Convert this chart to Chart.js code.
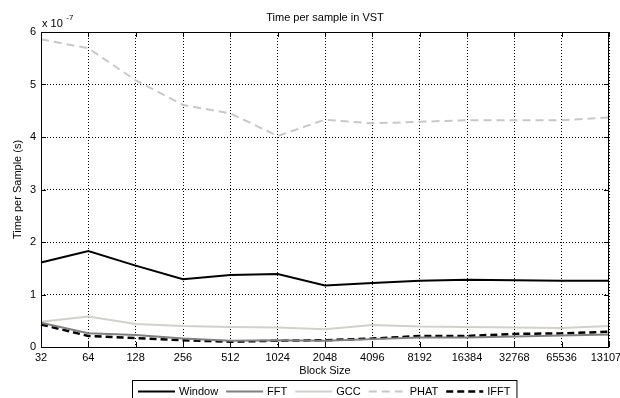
<!DOCTYPE html>
<html>
<head>
<meta charset="utf-8">
<script src="https://cdn.jsdelivr.net/npm/chart.js@4"></script>
<style>
  html, body { margin: 0; padding: 0; background: #fff; }
  #wrap { width: 620px; height: 398px; }
</style>
</head>
<body>
<div id="wrap"><canvas id="myChart" width="620" height="398"></canvas></div>
<script>
// block sizes (x axis)
const blockSizes = ['32', '64', '128', '256', '512', '1024', '2048', '4096', '8192', '16384', '32768', '65536', '131072']
// time per sample, in units of 1e-7 s
const windowT = [1.61, 1.83, 1.55, 1.29, 1.37, 1.39, 1.17, 1.22, 1.26, 1.28, 1.27, 1.26, 1.26]
const fftT    = [0.46, 0.26, 0.23, 0.16, 0.12, 0.13, 0.12, 0.15, 0.18, 0.18, 0.20, 0.22, 0.24]
const gccT    = [0.48, 0.58, 0.44, 0.40, 0.38, 0.37, 0.34, 0.42, 0.39, 0.38, 0.37, 0.36, 0.40]
const phatT   = [5.86, 5.69, 5.08, 4.61, 4.45, 4.02, 4.33, 4.26, 4.29, 4.32, 4.32, 4.32, 4.37]
const ifftT   = [0.43, 0.21, 0.17, 0.13, 0.10, 0.12, 0.13, 0.16, 0.21, 0.21, 0.25, 0.26, 0.29]
const yTicks = [0, 1, 2, 3, 4, 5, 6]
const seriesNames = ['Window', 'FFT', 'GCC', 'PHAT', 'IFFT']

const FONT = '"Liberation Sans", Arial, sans-serif'

const ctx = document.getElementById('myChart')

const makeSet = (label, data, color, width, dash) => ({
    label: label,
    data: data,
    borderColor: color,
    backgroundColor: color,
    borderWidth: width,
    borderDash: dash,
    pointRadius: 0,
    tension: 0,
    fill: false
})

// title, exponent, box, inward ticks, legend
const matlabDecor = {
    id: 'matlabDecor',
    afterDatasetsDraw(chart) {
        const c = chart.ctx
        const a = chart.chartArea
        const xs = chart.scales.x
        const ys = chart.scales.y
        c.save()
        // axes box
        c.strokeStyle = '#000'
        c.lineWidth = 1
        c.setLineDash([])
        c.strokeRect(a.left + 0.5, a.top + 0.5, a.right - a.left - 1, a.bottom - a.top)
        // inward tick marks
        c.beginPath()
        xs.ticks.forEach((t, i) => {
            const px = Math.round(xs.getPixelForTick(i)) + 0.5
            c.moveTo(px, a.bottom); c.lineTo(px, a.bottom - 5)
            c.moveTo(px, a.top); c.lineTo(px, a.top + 5)
        })
        ys.ticks.forEach((t, i) => {
            const py = Math.round(ys.getPixelForTick(i)) + 0.5
            c.moveTo(a.left, py); c.lineTo(a.left + 5, py)
            c.moveTo(a.right, py); c.lineTo(a.right - 5, py)
        })
        c.stroke()

        // title
        c.fillStyle = '#000'
        c.font = '11px ' + FONT
        c.textAlign = 'center'
        c.textBaseline = 'middle'
        c.fillText('Time per sample in VST', (a.left + a.right) / 2, 18)

        // exponent
        c.textAlign = 'left'
        c.fillText('x 10', a.left + 1, 24)
        c.font = '8px ' + FONT
        c.fillText('-7', a.left + 1 + c.measureText('x 10 ').width + 7, 18)

        // legend
        c.font = '11px ' + FONT
        const sets = chart.data.datasets
        const lineLen = 37
        let x = 138
        const ly = 391.5
        const boxLeft = 132
        sets.forEach((ds, i) => {
            c.strokeStyle = ds.borderColor
            c.lineWidth = ds.borderWidth
            c.setLineDash(ds.borderDash || [])
            c.beginPath()
            c.moveTo(x, ly); c.lineTo(x + lineLen, ly)
            c.stroke()
            x += lineLen + 4
            c.fillStyle = '#000'
            c.fillText(ds.label, x, ly + 0.5)
            x += c.measureText(ds.label).width + 8
        })
        c.setLineDash([])
        c.strokeStyle = '#000'
        c.lineWidth = 1
        c.strokeRect(boxLeft + 0.5, 380.5, x - boxLeft - 2, 30)
        c.restore()
    }
}

let grafico = new Chart(ctx, {
    type: 'line',
    data: {
        labels: blockSizes,
        datasets: [
            makeSet(seriesNames[0], windowT, '#000000', 2, []),
            makeSet(seriesNames[1], fftT, '#808080', 2, []),
            makeSet(seriesNames[2], gccT, '#d4d0c8', 2, []),
            makeSet(seriesNames[3], phatT, '#c8c8c8', 2, [8, 5]),
            makeSet(seriesNames[4], ifftT, '#000000', 2.5, [7, 4])
        ]
    },
    options: {
        responsive: false,
        animation: false,
        devicePixelRatio: 1,
        layout: {
            padding: { left: 0, right: 11, top: 32, bottom: 20 }
        },
        plugins: {
            legend: { display: false },
            title: { display: false },
            tooltip: { enabled: false }
        },
        scales: {
            x: {
                type: 'category',
                offset: false,
                grid: {
                    color: '#000',
                    lineWidth: 1,
                    drawTicks: false
                },
                // dotted grid lines
                border: { display: false, dash: [1, 2] },
                ticks: {
                    color: '#000',
                    font: { family: FONT, size: 11 },
                    padding: 4,
                    maxRotation: 0,
                    autoSkip: false
                },
                title: {
                    display: true,
                    text: 'Block Size',
                    color: '#000',
                    font: { family: FONT, size: 11 },
                    padding: { top: 0, bottom: 0 }
                },
                afterFit: (scale) => {
                    scale.height = 31
                    scale.paddingLeft = 0
                    scale.paddingRight = 0
                }
            },
            y: {
                min: 0,
                max: 6,
                afterBuildTicks: (scale) => {
                    scale.ticks = yTicks.map(v => ({ value: v }))
                },
                grid: {
                    color: '#000',
                    lineWidth: 1,
                    drawTicks: false
                },
                border: { display: false, dash: [1, 2] },
                ticks: {
                    color: '#000',
                    font: { family: FONT, size: 11 },
                    padding: 5
                },
                title: {
                    display: true,
                    text: 'Time per Sample (s)',
                    color: '#000',
                    font: { family: FONT, size: 11 },
                    padding: { top: 11, bottom: 0 }
                },
                afterFit: (scale) => {
                    scale.width = 41
                    scale.paddingTop = 0
                    scale.paddingBottom = 0
                }
            }
        }
    },
    plugins: [matlabDecor]
})
</script>
</body>
</html>
